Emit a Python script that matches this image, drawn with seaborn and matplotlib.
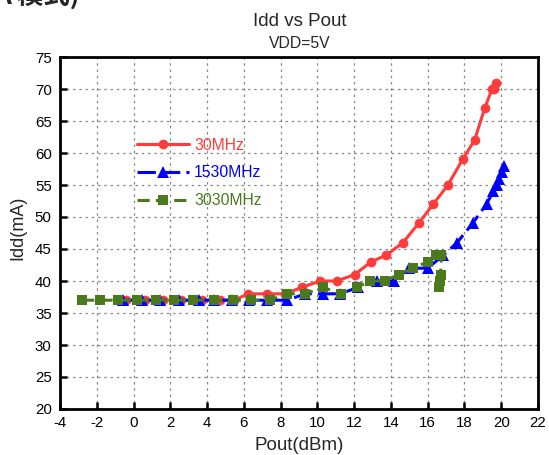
import matplotlib
matplotlib.use("Agg")
import matplotlib.pyplot as plt
import seaborn as sns
import pandas as pd

# ---- data ----
pout_30 = [-0.4, 0.6, 1.6, 2.6, 3.7, 4.7, 5.45, 6.25, 7.25, 8.25, 9.15, 10.15, 11.05, 12.03,
           12.92, 13.72, 14.66, 15.5, 16.3, 17.1, 17.9, 18.55, 19.1, 19.5, 19.6, 19.7]
idd_30 = [37, 37, 37, 37, 37, 37, 37, 38, 38, 38, 39, 40, 40, 41,
          43, 44, 46, 49, 52, 55, 59, 62, 67, 70, 70, 71]

pout_1530 = [-0.55, 0.45, 1.45, 2.45, 3.55, 4.4, 5.35, 6.3, 7.25, 8.35, 9.35, 10.32, 11.23,
             12.22, 13.22, 14.15, 15.0, 16.0, 16.84, 17.6, 18.44, 19.2, 19.57, 19.75,
             19.9, 20.03, 20.15]
idd_1530 = [37, 37, 37, 37, 37, 37, 37, 37, 37, 37, 38, 38, 38,
            39, 40, 40, 42, 42, 44, 46, 49, 52, 54, 55, 56, 57, 58]

pout_3030 = [-2.8, -1.8, -0.85, 0.18, 1.2, 2.2, 3.25, 4.4, 5.4, 6.38, 7.4, 8.35, 9.3,
             10.32, 11.26, 12.14, 12.87, 13.66, 14.44, 15.2, 16.0, 16.45, 16.75,
             16.7, 16.65, 16.6]
idd_3030 = [37, 37, 37, 37, 37, 37, 37, 37, 37, 37, 37, 38, 38,
            39, 38, 39, 40, 40, 41, 42, 43, 44, 44, 41, 40, 39]

labels = ["30MHz", "1530MHz", "3030MHz"]
colors = ["#FF3B3B", "#0000FF", "#4B7A1C"]
x_ticks = list(range(-4, 23, 2))
y_ticks = list(range(20, 76, 5))

sns.set_style("ticks")
plt.rcParams["font.family"] = ["Liberation Sans", "DejaVu Sans"]
plt.rcParams["axes.unicode_minus"] = False

W, H = 549, 455
fig = plt.figure(figsize=(W / 100, H / 100), dpi=100)
L, R, T, B = 60, 538, 57, 409
ax = fig.add_axes([L / W, 1 - B / H, (R - L) / W, (B - T) / H])

series = [(pout_30, idd_30), (pout_1530, idd_1530), (pout_3030, idd_3030)]
markers = ["o", "^", "s"]
msizes = [7, 8, 7]
styles = ["-", (0, (6, 2)), (0, (4, 2))]
for (xs, ys), lab, col, mk, ms, ls in zip(series, labels, colors, markers, msizes, styles):
    df = pd.DataFrame({"Pout": xs, "Idd": ys})
    sns.lineplot(data=df, x="Pout", y="Idd", sort=False, estimator=None, ax=ax,
                 color=col, marker=mk, markersize=ms, markeredgewidth=0,
                 linewidth=2.2, linestyle=ls, label=lab)

ax.set_xlim(-4, 22)
ax.set_ylim(20, 75)
ax.set_xticks(x_ticks)
ax.set_yticks(y_ticks)
ax.grid(True, linestyle=(0, (2, 3)), color="#888888", linewidth=0.9)
for s in ax.spines.values():
    s.set_color("black")
    s.set_linewidth(2)
ax.tick_params(direction="in", length=5, width=1.8, labelsize=10.8, colors="black")
ax.tick_params(axis="y", pad=6)
ax.tick_params(axis="x", pad=5)
ax.set_xlabel("Pout(dBm)", fontsize=13.5)
ax.set_ylabel("Idd(mA)", fontsize=13)
ax.xaxis.set_label_coords(0.5, (B - 445) / (B - T))
ax.xaxis.label.set_va("center")
ax.yaxis.set_label_coords((18 - L) / (R - L), 0.515)
ax.yaxis.label.set_va("center")

leg = ax.legend(loc="upper left", bbox_to_anchor=(0.162, 0.771), frameon=False,
                borderpad=0, borderaxespad=0, handlelength=3.3, handletextpad=0.3,
                labelspacing=0.82, fontsize=11.3)
for txt, col in zip(leg.get_texts(), colors):
    txt.set_color(col)

fig.text(300 / W, 1 - 21 / H, "Idd vs Pout", ha="center", va="center", fontsize=13.5)
fig.text(300 / W, 1 - 44 / H, "VDD=5V", ha="center", va="center", fontsize=11.3)
fig.text(-6 / W, 1 - 5 / H, "A 模式)", ha="left", va="baseline", fontsize=19,
         fontweight="bold", family=["Noto Sans CJK SC", "DejaVu Sans"])

fig.savefig("out.png", dpi=100)
